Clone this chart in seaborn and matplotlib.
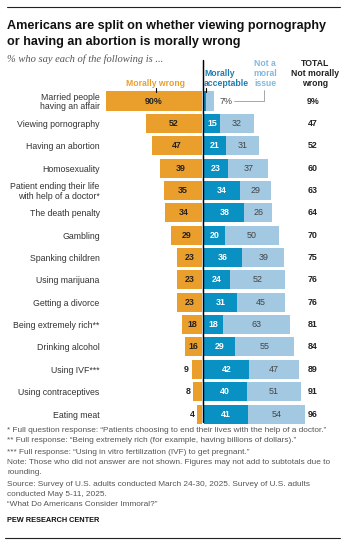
import matplotlib
matplotlib.use("Agg")
import matplotlib.pyplot as plt
import seaborn as sns
import pandas as pd
from matplotlib.lines import Line2D

# ---------------- data ----------------
items = [
    "Married people\nhaving an affair",
    "Viewing pornography",
    "Having an abortion",
    "Homosexuality",
    "Patient ending their life\nwith help of a doctor*",
    "The death penalty",
    "Gambling",
    "Spanking children",
    "Using marijuana",
    "Getting a divorce",
    "Being extremely rich**",
    "Drinking alcohol",
    "Using IVF***",
    "Using contraceptives",
    "Eating meat",
]
wrong = [90, 52, 47, 39, 35, 34, 29, 23, 23, 23, 18, 16, 9, 8, 4]
acceptable = [2, 15, 21, 23, 34, 38, 20, 36, 24, 31, 18, 29, 42, 40, 41]
not_moral = [7, 32, 31, 37, 29, 26, 50, 39, 52, 45, 63, 55, 47, 51, 54]
total_not_wrong = [9, 47, 52, 60, 63, 64, 70, 75, 76, 76, 81, 84, 89, 91, 96]

title_lines = ["Americans are split on whether viewing pornography",
               "or having an abortion is morally wrong"]
subtitle = "% who say each of the following is ..."
footnotes = [
    "* Full question response: \u201cPatients choosing to end their lives with the help of a doctor.\u201d",
    "** Full response: \u201cBeing extremely rich (for example, having billions of dollars).\u201d",
    "*** Full response: \u201cUsing in vitro fertilization (IVF) to get pregnant.\u201d",
    "Note: Those who did not answer are not shown. Figures may not add to subtotals due to",
    "rounding.",
    "Source: Survey of U.S. adults conducted March 24-30, 2025. Survey of U.S. adults",
    "conducted May 5-11, 2025.",
    "\u201cWhat Do Americans Consider Immoral?\u201d",
]

df = pd.DataFrame({
    "item": items, "wrong": wrong, "acceptable": acceptable,
    "not_moral": not_moral, "total": total_not_wrong,
})
df["wrong_neg"] = -df["wrong"]
df["right_stack"] = df["acceptable"] + df["not_moral"]

ORANGE = "#EA9F2D"
DARK = "#0891C2"
LIGHT = "#A3C8E1"
DARK_TXT = "#1C7DB4"
LIGHT_TXT = "#80B9E0"
GREY = "#555555"

sns.set_theme(style="white")
plt.rcParams["font.family"] = ["Liberation Sans", "DejaVu Sans"]

W, H = 346, 540
fig = plt.figure(figsize=(W / 100, H / 100), dpi=100)


def fx(px):
    return px / W


def fy(py):
    return 1 - py / H


scale = 1.068          # px per percentage point
zero_px = 202.8
gap = 1.1 / scale      # half-gap around the zero line, in data units
xmin, xmax = -92, 125
n = len(items)
pitch = 22.36
top_px = 101 - pitch / 2
ax_left_px = zero_px + xmin * scale
ax_w_px = (xmax - xmin) * scale
ax_h_px = pitch * n
ax = fig.add_axes([fx(ax_left_px), fy(top_px + ax_h_px), ax_w_px / W, ax_h_px / H])

common = dict(data=df, y="item", width=0.85, ax=ax, saturation=1,
              errorbar=None, linewidth=0, orient="h")
sns.barplot(x="right_stack", color=LIGHT, **common)
sns.barplot(x="acceptable", color=DARK, **common)
sns.barplot(x="wrong_neg", color=ORANGE, **common)

# open a small gap on both sides of the zero line
for p in ax.patches:
    x0 = p.get_x()
    wdt = p.get_width()
    if wdt < 0 or x0 < 0:
        p.set_x(x0 - gap)
    else:
        p.set_x(x0 + gap)

ax.set_xlim(xmin, xmax)
ax.set_ylim(n - 0.5, -0.5)
ax.set_xlabel("")
ax.set_ylabel("")
ax.set_xticks([])
for s in ax.spines.values():
    s.set_visible(False)
ax.tick_params(axis="y", length=0, pad=3.5, labelsize=6.3, labelcolor="#333333")
for lbl in ax.get_yticklabels():
    lbl.set_linespacing(1.05)


def py2y(py):
    return (py - top_px) / pitch - 0.5


def px2x(px):
    return (px - zero_px) / scale


# zero line
ax.plot([0, 0], [py2y(60), py2y(422)], color="black", lw=1.05, clip_on=False, zorder=6)

# values
vs = 6.4
for i in range(n):
    w = wrong[i]
    a = acceptable[i]
    m = not_moral[i]
    wl = f"{w}%" if i == 0 else str(w)
    if w >= 12:
        ax.text(-w / 2 - gap, i, wl, ha="center", va="center", fontsize=vs,
                fontweight="bold", color="#222222", zorder=7)
    else:
        ax.text(-w - gap - 3 / scale, i, wl, ha="right", va="center", fontsize=vs,
                fontweight="bold", color="#222222", zorder=7)
    if i == 0:
        ax.text(px2x(225.5), i, f"{m}%", ha="center", va="center", fontsize=vs,
                color="#444444", zorder=7)
        ax.plot([px2x(234), px2x(264), px2x(264)],
                [0, 0, py2y(90)], color="#999999", lw=0.6, clip_on=False)
    else:
        ax.text(a / 2 + gap, i, str(a), ha="center", va="center", fontsize=vs,
                fontweight="bold", color="white", zorder=7)
        ax.text(a + m / 2 + gap, i, str(m), ha="center", va="center", fontsize=vs,
                color="#444444", zorder=7)
    tl = f"{total_not_wrong[i]}%" if i == 0 else str(total_not_wrong[i])
    ax.text(px2x(313), i, tl, ha="center", va="center",
            fontsize=vs, fontweight="bold", color="#222222", clip_on=False)

# header ticks
ax.plot([px2x(155.5)] * 2, [py2y(88), py2y(92)], color="black",
        lw=0.8, clip_on=False)
ax.plot([px2x(205.5)] * 2, [py2y(88), py2y(92)], color="black",
        lw=0.8, clip_on=False)

# headers
hs = 6.2
fig.text(fx(155), fy(84), "Morally wrong", ha="center", va="center",
         fontsize=hs, fontweight="bold", color=ORANGE)
fig.text(fx(204), fy(73), "Morally", ha="left", va="center",
         fontsize=hs, fontweight="bold", color=DARK_TXT)
fig.text(fx(204), fy(84), "acceptable", ha="left", va="center",
         fontsize=hs, fontweight="bold", color=DARK_TXT)
for t, yy in zip(["Not a", "moral", "issue"], [63, 73.5, 84]):
    fig.text(fx(265), fy(yy), t, ha="center", va="center",
             fontsize=hs, fontweight="bold", color=LIGHT_TXT)
for t, yy in zip(["TOTAL", "Not morally", "wrong"], [63, 73.5, 84]):
    fig.text(fx(315), fy(yy), t, ha="center", va="center",
             fontsize=hs, fontweight="bold", color="#222222")

# rules
fig.add_artist(Line2D([fx(7), fx(340)], [fy(7), fy(7)], color="#222222", lw=0.8))
fig.add_artist(Line2D([fx(5), fx(340)], [fy(537.5), fy(537.5)], color="#222222", lw=0.8))

# title & subtitle
fig.text(fx(7), fy(29.5), title_lines[0], ha="left", va="baseline",
         fontsize=9.1, fontweight="bold", color="#111111")
fig.text(fx(7), fy(45), title_lines[1], ha="left", va="baseline",
         fontsize=9.1, fontweight="bold", color="#111111")
fig.text(fx(7), fy(59), subtitle, ha="left", va="center", fontsize=7.6,
         style="italic", color=GREY, family=["Liberation Serif", "DejaVu Serif"])

# footnotes
fy_list = [430, 441, 452, 462.5, 472.5, 484, 494.5, 505]
for t, yy in zip(footnotes, fy_list):
    fig.text(fx(7), fy(yy), t, ha="left", va="center", fontsize=5.95, color=GREY)
fig.text(fx(7), fy(521), "PEW RESEARCH CENTER", ha="left", va="center",
         fontsize=5.3, fontweight="bold", color="#111111")

fig.savefig("out.png", dpi=100)
